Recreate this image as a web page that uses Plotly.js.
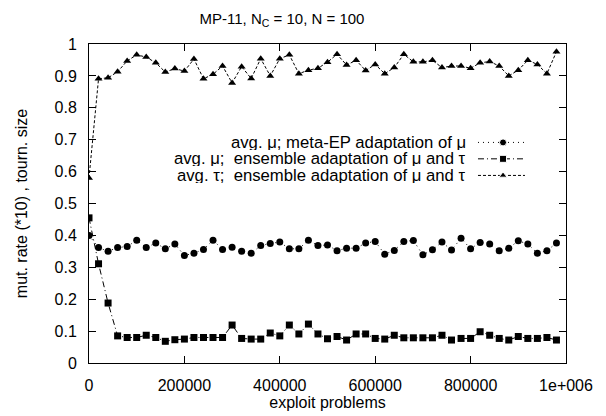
<!DOCTYPE html>
<html>
<head>
<meta charset="utf-8">
<script src="https://cdn.plot.ly/plotly-3.0.1.min.js"></script>
<style>html,body{margin:0;padding:0;background:#fff;}#chart{width:606px;height:416px;}</style>
</head>
<body>
<div id="chart"></div>
<script>
const problems = [0,20000,40000,60000,80000,100000,120000,140000,160000,180000,
  200000,220000,240000,260000,280000,300000,320000,340000,360000,380000,
  400000,420000,440000,460000,480000,500000,520000,540000,560000,580000,
  600000,620000,640000,660000,680000,700000,720000,740000,760000,780000,
  800000,820000,840000,860000,880000,900000,920000,940000,960000,980000];

const muMetaEP = [0.400,0.362,0.350,0.362,0.365,0.385,0.362,0.376,0.358,0.373,
  0.337,0.344,0.356,0.385,0.356,0.363,0.350,0.344,0.368,0.375,
  0.379,0.358,0.358,0.385,0.368,0.370,0.352,0.360,0.360,0.376,
  0.381,0.341,0.353,0.381,0.384,0.339,0.355,0.379,0.354,0.391,
  0.358,0.378,0.373,0.352,0.360,0.383,0.373,0.344,0.352,0.376];

const muEnsemble = [0.455,0.311,0.188,0.085,0.080,0.080,0.087,0.080,0.068,0.073,
  0.075,0.080,0.080,0.080,0.080,0.119,0.077,0.075,0.075,0.094,
  0.085,0.119,0.091,0.122,0.091,0.076,0.083,0.072,0.091,0.091,
  0.077,0.075,0.087,0.079,0.079,0.079,0.079,0.087,0.072,0.077,
  0.077,0.098,0.087,0.077,0.072,0.083,0.077,0.077,0.080,0.072];

const tauEnsemble = [0.580,0.891,0.894,0.913,0.947,0.966,0.959,0.941,0.912,0.923,
  0.915,0.953,0.891,0.905,0.931,0.878,0.929,0.892,0.954,0.900,
  0.954,0.966,0.907,0.918,0.924,0.943,0.968,0.934,0.949,0.917,
  0.936,0.907,0.926,0.968,0.944,0.944,0.949,0.926,0.931,0.931,
  0.924,0.941,0.945,0.931,0.900,0.918,0.949,0.936,0.907,0.976];

const seriesNames = [
  "avg. \u03bc; meta-EP adaptation of \u03bc",
  "avg. \u03bc;\u00a0 ensemble adaptation of \u03bc and \u03c4",
  "avg. \u03c4;\u00a0 ensemble adaptation of \u03bc and \u03c4"
];
const xTickVals = [0,200000,400000,600000,800000,1000000];
const xTickText = ["0","200000","400000","600000","800000","1e+006"];

const FONT = "Liberation Sans, Arial, Helvetica, sans-serif";
const styles = [
  {symbol:"circle", size:7, dash:"1px,4px"},
  {symbol:"square", size:7, dash:"6px,3px,1px,3px"},
  {symbol:"triangle-up", size:7, dash:"3px,2px"}
];
const values = [muMetaEP, muEnsemble, tauEnsemble];

const traces = values.map((v,i)=>({
  x: problems, y: v, type:"scatter", mode:"lines+markers",
  name: seriesNames[i], showlegend:false,
  line:{color:"#000", width:1, dash:styles[i].dash},
  marker:{color:"#000", symbol:styles[i].symbol, size:styles[i].size}
}));

// legend keys (gnuplot style: text on the left, sample on the right)
const keyRows = [0.6915, 0.640, 0.588];
const keyX = [0.8155, 0.868, 0.914];
keyRows.forEach((ry,i)=>{
  traces.push({
    x:keyX, y:[ry,ry,ry], xaxis:"x2", yaxis:"y2", type:"scatter", mode:"lines+markers",
    showlegend:false, hoverinfo:"skip",
    line:{color:"#000", width:1, dash:styles[i].dash},
    marker:{color:"#000", symbol:styles[i].symbol, size:[0,styles[i].size,0], opacity:[0,1,0]}
  });
});

const annotations = seriesNames.map((t,i)=>({
  text:t, xref:"paper", yref:"paper", x:0.792, y:keyRows[i],
  xanchor:"right", yanchor:"middle", showarrow:false, height:15, valign:"middle", borderpad:0,
  font:{family:FONT, size:16.7, color:"#000"}
}));

const layout = {
  width:606, height:416,
  margin:{l:89, r:40, t:44, b:53, pad:0},
  paper_bgcolor:"#fff", plot_bgcolor:"#fff",
  font:{family:FONT, size:16, color:"#000"},
  title:{text:"MP-11, N<sub>C</sub> = 10, N = 100", xref:"container", yref:"container",
         x:282/606, xanchor:"center", y:1-19/416, yanchor:"middle",
         font:{family:FONT, size:15, color:"#000"}},
  xaxis:{range:[0,1000000], tickvals:xTickVals, ticktext:xTickText,
    ticks:"inside", ticklen:7, tickcolor:"#000", tickwidth:1,
    showline:true, linecolor:"#000", linewidth:1, mirror:"ticks",
    showgrid:false, zeroline:false, ticklabelstandoff:8,
    tickfont:{family:FONT, size:16, color:"#000"},
    title:{text:"exploit problems", standoff:0, font:{family:FONT, size:16, color:"#000"}}},
  yaxis:{range:[0,1], dtick:0.1, tick0:0,
    ticks:"inside", ticklen:7, tickcolor:"#000", tickwidth:1,
    showline:true, linecolor:"#000", linewidth:1, mirror:"ticks",
    showgrid:false, zeroline:false, ticklabelstandoff:8,
    tickfont:{family:FONT, size:16, color:"#000"},
    title:{text:"mut. rate (*10) , tourn. size", standoff:22, font:{family:FONT, size:16, color:"#000"}}},
  xaxis2:{overlaying:"x", range:[0,1], visible:false, fixedrange:true},
  yaxis2:{overlaying:"y", range:[0,1], visible:false, fixedrange:true},
  annotations:annotations,
  showlegend:false
};

Plotly.newPlot("chart", traces, layout, {displayModeBar:false, staticPlot:true});
</script>
</body>
</html>
